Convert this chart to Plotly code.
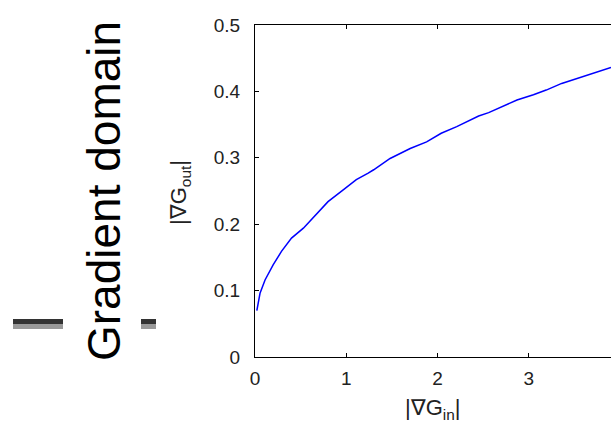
import plotly.graph_objects as go

# Data
grad_in = [0.02, 0.055, 0.11, 0.20, 0.29, 0.40, 0.53, 0.68, 0.80, 0.97, 1.11, 1.24,
           1.30, 1.48, 1.70, 1.88, 2.04, 2.21, 2.45, 2.56, 2.67, 2.87, 3.05, 3.19,
           3.36, 3.56, 3.74, 3.90]
grad_out = [0.070, 0.096, 0.116, 0.139, 0.159, 0.179, 0.194, 0.216, 0.234, 0.252, 0.267, 0.277,
            0.282, 0.299, 0.314, 0.324, 0.337, 0.347, 0.363, 0.368, 0.375, 0.387, 0.395, 0.402,
            0.412, 0.421, 0.428, 0.436]
x_ticks = [0, 1, 2, 3]
y_ticks = [0, 0.1, 0.2, 0.3, 0.4, 0.5]
y_tick_labels = ["0", "0.1", "0.2", "0.3", "0.4", "0.5"]

W, H = 611, 426
L, R, T, B = 255, 0, 25, 69
pw = W - L - R
ph = H - T - B

def px_x(px):
    return (px - L) / pw

def px_y(py):
    return (H - B - py) / ph

fig = go.Figure()
fig.add_trace(go.Scatter(x=grad_in, y=grad_out, mode="lines",
                         line=dict(color="#0000ff", width=1.5), showlegend=False))

font_f = "Liberation Sans, Arial, sans-serif"
fig.update_layout(
    width=W, height=H,
    margin=dict(l=L, r=R, t=T, b=B, pad=0),
    paper_bgcolor="white", plot_bgcolor="white",
    font=dict(family=font_f, size=19, color="#222222"),
    xaxis=dict(range=[0, 3.9], tickvals=x_ticks, ticks="inside", ticklen=4,
               tickcolor="black", showline=True, linecolor="black", linewidth=1,
               mirror="ticks", showgrid=False, zeroline=False,
               ticklabelstandoff=4),
    yaxis=dict(range=[0, 0.5], tickvals=y_ticks, ticktext=y_tick_labels,
               ticks="inside", ticklen=4, tickcolor="black", showline=True,
               linecolor="black", linewidth=1, mirror=False, showgrid=False,
               zeroline=False, ticklabelstandoff=10),
    annotations=[
        dict(text="|∇G<sub>in</sub>|", xref="paper", yref="paper",
             x=px_x(433), y=px_y(409), xanchor="center", yanchor="middle",
             showarrow=False, font=dict(size=22, color="#222222")),
        dict(text="|∇G<sub>out</sub>|", xref="paper", yref="paper",
             x=px_x(180), y=px_y(193), xanchor="center", yanchor="middle",
             textangle=-90, showarrow=False, font=dict(size=22, color="#222222")),
        dict(text="Gradient domain", xref="paper", yref="paper",
             x=px_x(104), y=px_y(191), xanchor="center", yanchor="middle",
             textangle=-90, showarrow=False, font=dict(size=46, color="black")),
    ],
    shapes=[
        dict(type="rect", xref="paper", yref="paper", x0=px_x(13), x1=px_x(63),
             y0=px_y(324), y1=px_y(319), fillcolor="#333333", line=dict(width=0)),
        dict(type="rect", xref="paper", yref="paper", x0=px_x(13), x1=px_x(63),
             y0=px_y(329), y1=px_y(324), fillcolor="#999999", line=dict(width=0)),
        dict(type="rect", xref="paper", yref="paper", x0=px_x(141), x1=px_x(156),
             y0=px_y(324), y1=px_y(319), fillcolor="#333333", line=dict(width=0)),
        dict(type="rect", xref="paper", yref="paper", x0=px_x(141), x1=px_x(156),
             y0=px_y(329), y1=px_y(324), fillcolor="#999999", line=dict(width=0)),
    ],
)

fig.write_html("out.html", config={"displayModeBar": False})
